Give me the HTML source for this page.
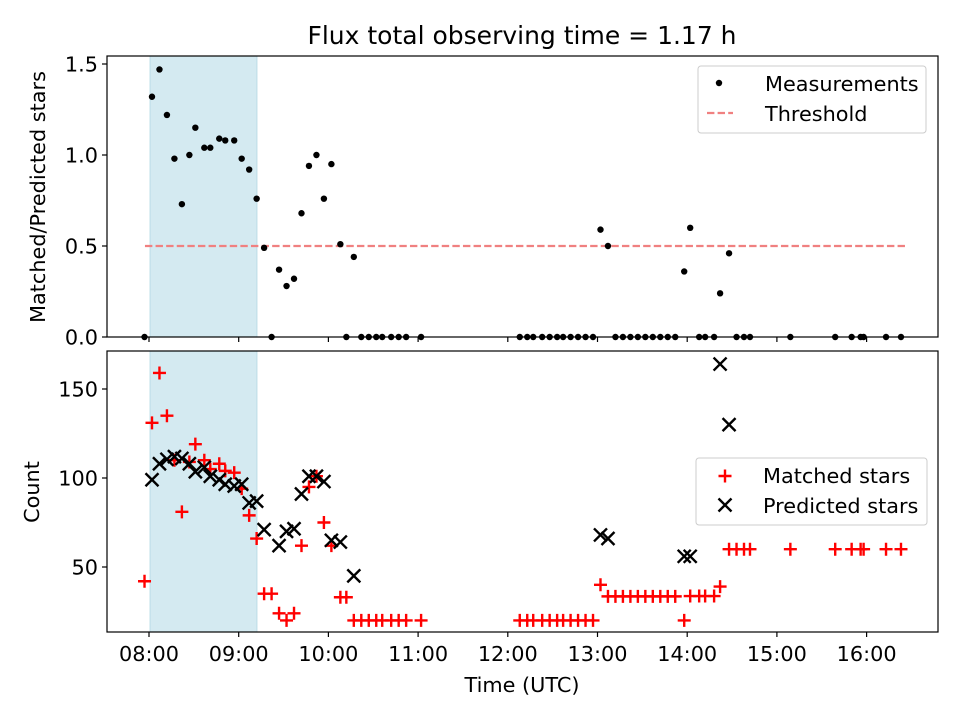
<!DOCTYPE html>
<html><head><meta charset="utf-8"><style>
body{margin:0;background:#fff;}
svg text{font-family:"DejaVu Sans","Liberation Sans",sans-serif;fill:#000;}
</style></head><body>
<svg id="chart" width="960" height="720" xmlns="http://www.w3.org/2000/svg" style="position:absolute;left:0;top:0">
<rect width="960" height="720" fill="#fff"/>
<g id="gtop"></g><g id="gbot"></g>
</svg>
<script>
// time in minutes after 08:00 UTC
const ratioTimes=[-3,2,7,12,17,22,27,31,37,41,47,51,57,62,67,72,77,82,87,92,97,102,107,112,117,122,128,132,137,142,147,152,156,162,167,172,182,248,253,257,263,268,273,277,282,287,292,297,302,307,312,317,322,327,332,337,342,347,352,358,362,368,372,378,382,388,393,398,402,429,459,470,476,478,493,503];
const ratioValues=[0,1.32,1.47,1.22,0.98,0.73,1.00,1.15,1.04,1.04,1.09,1.08,1.08,0.98,0.92,0.76,0.49,0,0.37,0.28,0.32,0.68,0.94,1.00,0.76,0.95,0.51,0,0.44,0,0,0,0,0,0,0,0,0,0,0,0,0,0,0,0,0,0,0,0.59,0.50,0,0,0,0,0,0,0,0,0,0.36,0.60,0,0,0,0.24,0.46,0,0,0,0,0,0,0,0,0,0];
const matchedTimes=[-3,2,7,12,17,22,27,31,37,41,47,51,57,62,67,72,77,82,87,92,97,102,107,112,117,122,128,132,137,142,147,152,156,162,167,172,182,248,253,257,263,268,273,277,282,287,292,297,302,307,312,317,322,327,332,337,342,347,352,358,362,368,372,378,382,388,393,398,402,429,459,470,476,478,493,503];
const matchedValues=[42,131,159,135,110,81,109,119,110,105,108,104,103,94,79,66,35,35,24,20,24,62,95,101,75,62,33,33,20,20,20,20,20,20,20,20,20,20,20,20,20,20,20,20,20,20,20,20,40,33.5,33.5,33.5,33.5,33.5,33.5,33.5,33.5,33.5,33.5,20,33.7,33.7,33.7,33.7,39,60,60,60,60,60,60,60,60,60,60,60];
const predTimes=[2,7,12,17,22,27,31,37,41,47,51,57,62,67,72,77,87,92,97,102,107,112,117,122,128,137,302,307,358,362,382,388];
const predValues=[99,108,110.5,112,111,108,103.5,106,101,99,96.5,95.5,96.5,86,87,71,62,70,71.5,91,101,101,98,65,64,45,68,66,56,56,164,130];
const xTickLabels=["08:00","09:00","10:00","11:00","12:00","13:00","14:00","15:00","16:00"];
const ratioTicks=[0,0.5,1.0,1.5];
const countTicks=[50,100,150];
const threshold=0.5;
const spanStart=0.7, spanEnd=72.2;
const thStart=-2.7, thEnd=506;

const L=107,R=938,T1=56,B1=337,T2=351,B2=632;
const xs=m=>149+m*89.7/60;
const y1=v=>337-v*182;
const y2=v=>567-(v-50)*1.78;
const NS="http://www.w3.org/2000/svg";
function el(p,tag,a){const e=document.createElementNS(NS,tag);for(const k in a)e.setAttribute(k,a[k]);p.appendChild(e);return e;}
const svgEl=document.getElementById('chart');
const gTop=document.getElementById('gtop'),gBot=document.getElementById('gbot');

function panel(g,T,B,name){
  const s=el(g,'rect',{x:xs(spanStart),y:T,width:xs(spanEnd)-xs(spanStart),height:B-T,fill:'#d4eaf1',stroke:'#bcdde7','stroke-width':1});
  
  
}
panel(gTop,T1,B1,'top');panel(gBot,T2,B2,'bottom');

const th=el(gTop,'line',{x1:xs(thStart),x2:xs(thEnd),y1:y1(threshold),y2:y1(threshold),stroke:'#f08080','stroke-width':2.2,'stroke-dasharray':'7.4,3.2'});



ratioTimes.forEach((t,i)=>{
  const c=el(gTop,'circle',{cx:xs(t),cy:y1(ratioValues[i]),r:3.2,fill:'#000'});
  
  
});
matchedTimes.forEach((t,i)=>{
  const x=xs(t),y=y2(matchedValues[i]);
  const p=el(gBot,'path',{d:`M${x-6.5},${y}H${x+6.5}M${x},${y-6.5}V${y+6.5}`,stroke:'#f00','stroke-width':2.4});
  
  
});
predTimes.forEach((t,i)=>{
  const x=xs(t),y=y2(predValues[i]);
  const p=el(gBot,'path',{d:`M${x-6.5},${y-6.5}L${x+6.5},${y+6.5}M${x-6.5},${y+6.5}L${x+6.5},${y-6.5}`,stroke:'#000','stroke-width':2.4});
  
  
});

[[T1,B1,'top'],[T2,B2,'bottom']].forEach(([T,B,n])=>{
  const f=el(svgEl,'rect',{x:L,y:T,width:R-L,height:B-T,fill:'none',stroke:'#000','stroke-width':1.2});
  
  
  xTickLabels.forEach((lb,i)=>{
    const x=xs(i*60);
    el(svgEl,'line',{x1:x,x2:x,y1:B,y2:B+5,stroke:'#000','stroke-width':1.2});
    if(n==='bottom'){
      const t=el(svgEl,'text',{x:x,y:B+29,'text-anchor':'middle','font-size':20.8});
      t.textContent=lb;
      
      
    }
  });
});
ratioTicks.forEach(v=>{
  const y=y1(v);
  el(svgEl,'line',{x1:L-5,x2:L,y1:y,y2:y,stroke:'#000','stroke-width':1.2});
  const t=el(svgEl,'text',{x:L-9,y:y+7.5,'text-anchor':'end','font-size':20.8});
  t.textContent=v.toFixed(1);
  
  
});
countTicks.forEach(v=>{
  const y=y2(v);
  el(svgEl,'line',{x1:L-5,x2:L,y1:y,y2:y,stroke:'#000','stroke-width':1.2});
  const t=el(svgEl,'text',{x:L-9,y:y+7.5,'text-anchor':'end','font-size':20.8});
  t.textContent=v;
  
  
});
</script>
<svg style="position:absolute;left:0;top:0" width="960" height="720" xmlns="http://www.w3.org/2000/svg" font-family="DejaVu Sans, Liberation Sans, sans-serif">
<text x="522" y="44" text-anchor="middle" font-size="25">Flux total observing time = 1.17 h</text>
<text x="0" y="0" transform="translate(45,197) rotate(-90)" text-anchor="middle" font-size="20.8">Matched/Predicted stars</text>
<text x="0" y="0" transform="translate(39,492) rotate(-90)" text-anchor="middle" font-size="20.8">Count</text>
<text x="522" y="692" text-anchor="middle" font-size="20.8">Time (UTC)</text>
<g>
<rect x="698" y="66" width="228" height="67" rx="3" fill="#fff" fill-opacity="0.8" stroke="#ccc"/>
<circle cx="719" cy="83" r="3.2" fill="#000"/>
<text x="765" y="91" font-size="20.8">Measurements</text>
<line x1="707" x2="733" y1="113" y2="113" stroke="#f08080" stroke-width="2.2" stroke-dasharray="7.4,3.2"/>
<text x="765" y="121" font-size="20.8">Threshold</text>
</g>
<g>
<rect x="696" y="458" width="231" height="67" rx="3" fill="#fff" fill-opacity="0.8" stroke="#ccc"/>
<path d="M718.5,476H731.5M725,469.5V482.5" stroke="#f00" stroke-width="2.4"/>
<text x="763" y="483" font-size="20.8">Matched stars</text>
<path d="M718.5,498.5L731.5,511.5M718.5,511.5L731.5,498.5" stroke="#000" stroke-width="2.4"/>
<text x="763" y="513" font-size="20.8">Predicted stars</text>
</g>
</svg>
</body></html>
